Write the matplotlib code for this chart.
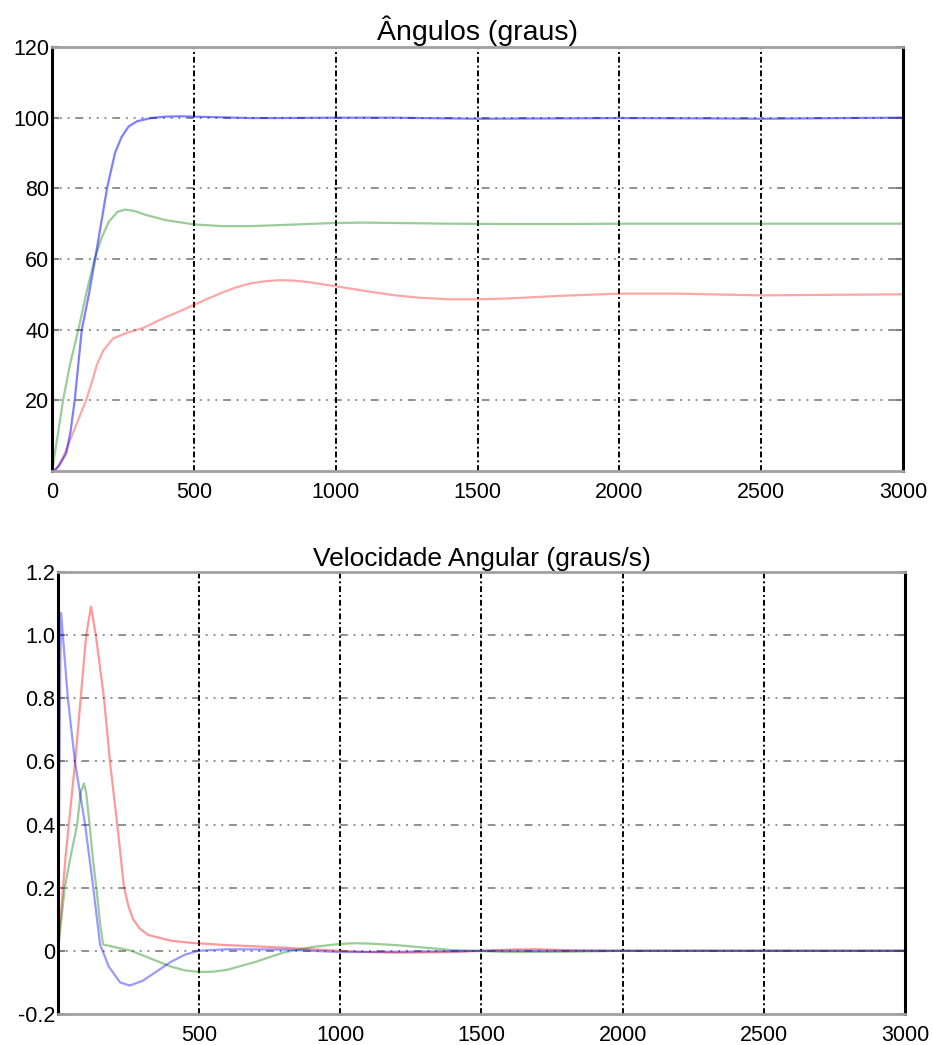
import numpy as np
import matplotlib
matplotlib.use("Agg")
from matplotlib import pyplot as plt

plt.rcParams["font.family"] = ["Liberation Sans", "DejaVu Sans"]

# angulos (graus)
t_ang_azul = [0, 10, 25, 50, 65, 80, 105, 130, 152, 173, 194, 222, 245, 270, 300, 350,
              400, 450, 500, 600, 700, 800, 1000, 1200, 1500, 1800, 2000, 2300, 2500, 2800, 3000]
ang_azul = [0, 0.3, 1.5, 5, 11, 20, 40, 50, 60, 70, 80, 90, 94.5, 97.5, 99, 99.9,
            100.3, 100.4, 100.3, 100.1, 99.9, 99.9, 100, 100, 99.7, 99.8, 99.9, 99.8, 99.7, 99.9, 100]

t_ang_verde = [0, 20, 39, 63, 93, 120, 150, 175, 200, 230, 257, 290, 330, 400, 500, 600,
               700, 800, 900, 1000, 1100, 1200, 1400, 1600, 1800, 2000, 2500, 3000]
ang_verde = [0, 10, 20, 30, 40, 50, 60, 66, 70.5, 73.3, 74, 73.6, 72.5, 71, 69.8, 69.3,
             69.3, 69.6, 69.9, 70.2, 70.3, 70.2, 70, 69.9, 69.9, 70, 70, 70]

t_ang_verm = [0, 15, 40, 70, 100, 120, 140, 158, 180, 215, 260, 322, 400, 450, 500, 550,
              600, 650, 700, 750, 800, 850, 900, 1000, 1100, 1200, 1300, 1400, 1500, 1600,
              1800, 2000, 2200, 2500, 2800, 3000]
ang_verm = [0, 0.5, 4, 10, 16, 20, 25, 30, 34, 37.5, 39, 40.5, 43.5, 45.2, 47, 48.8,
            50.5, 52, 53.1, 53.7, 54, 53.9, 53.5, 52.3, 51, 49.8, 49, 48.6, 48.6, 48.8,
            49.6, 50.2, 50.2, 49.7, 49.9, 50]

# velocidade angular (graus/s)
t_vel_azul = [0, 3, 8, 11, 35, 60, 96, 125, 149, 180, 220, 254, 300, 350, 400, 450, 497,
              600, 800, 1000, 1200, 1500, 2000, 3000]
vel_azul = [0, 0.3, 0.9, 1.07, 0.8, 0.6, 0.4, 0.2, 0.02, -0.05, -0.1, -0.11, -0.095,
            -0.065, -0.035, -0.012, 0, 0.005, 0.004, -0.004, -0.003, 0, 0, 0]

t_vel_verde = [0, 24, 45, 68, 80, 92, 100, 112, 125, 136, 150, 160, 200, 260, 330, 400,
               450, 500, 550, 600, 700, 800, 900, 1000, 1050, 1100, 1200, 1300, 1400,
               1600, 1800, 2000, 2500, 3000]
vel_verde = [0, 0.2, 0.3, 0.4, 0.5, 0.53, 0.5, 0.4, 0.28, 0.2, 0.08, 0.02, 0.012, 0,
             -0.025, -0.05, -0.062, -0.067, -0.066, -0.06, -0.035, -0.005, 0.012, 0.022,
             0.024, 0.023, 0.018, 0.01, 0.002, -0.004, -0.003, 0, 0, 0]

t_vel_verm = [0, 27, 61, 100, 117, 134, 163, 184, 210, 234, 250, 266, 290, 320, 400, 474,
              600, 700, 800, 900, 1000, 1100, 1200, 1400, 1500, 1600, 1700, 1800, 2000,
              2500, 3000]
vel_verm = [0, 0.3, 0.6, 1.0, 1.09, 1.0, 0.8, 0.6, 0.4, 0.2, 0.14, 0.1, 0.07, 0.05,
            0.032, 0.025, 0.018, 0.014, 0.01, 0.005, 0, -0.004, -0.006, -0.004, 0, 0.004,
            0.005, 0.002, 0, 0, 0]

fig = plt.figure(figsize=(9.32, 10.45), dpi=100)
ax1 = fig.add_axes([0.0558, 0.5493, 0.9131, 0.4057])
ax2 = fig.add_axes([0.0622, 0.0297, 0.9088, 0.4230])

cor_az = "#0000ff"
cor_vd = "#008000"
cor_vm = "#ff0000"


def estilo(ax):
    ax.grid(False)
    for s in ["left", "right"]:
        ax.spines[s].set_color("black")
        ax.spines[s].set_linewidth(2.2)
    for s in ["top", "bottom"]:
        ax.spines[s].set_color("#a0a0a0")
        ax.spines[s].set_linewidth(2)
    ax.tick_params(axis="both", direction="in", length=5, width=1.5, color="#808080",
                   labelsize=15.5, right=True, pad=2)
    ax.tick_params(axis="x", length=0, pad=8)
    for x in [500, 1000, 1500, 2000, 2500]:
        ax.axvline(x, color="black", lw=1.4, dashes=(3, 1.5, 1, 1.5), zorder=1)


ax1.plot(t_ang_verm, ang_verm, color=cor_vm, lw=1.6, alpha=0.35)
ax1.plot(t_ang_verde, ang_verde, color=cor_vd, lw=1.6, alpha=0.4)
ax1.plot(t_ang_azul, ang_azul, color=cor_az, lw=1.6, alpha=0.5)
ax1.set_xlim(0, 3000)
ax1.set_ylim(0, 120)
ax1.set_xticks([0, 500, 1000, 1500, 2000, 2500, 3000])
ax1.set_yticks([20, 40, 60, 80, 100, 120])
for y in [20, 40, 60, 80, 100]:
    ax1.axhline(y, color="#909090", lw=1.4, dashes=(1, 3, 1, 3, 1, 3, 4, 3), zorder=1)
estilo(ax1)
ax1.set_title("Ângulos (graus)", fontsize=20.5, pad=5)

ax2.plot(t_vel_verm, vel_verm, color=cor_vm, lw=1.6, alpha=0.4)
ax2.plot(t_vel_verde, vel_verde, color=cor_vd, lw=1.6, alpha=0.4)
ax2.plot(t_vel_azul, vel_azul, color=cor_az, lw=1.6, alpha=0.4)
ax2.set_xlim(0, 3000)
ax2.set_ylim(-0.2, 1.2)
ax2.set_xticks([500, 1000, 1500, 2000, 2500, 3000])
ax2.set_yticks([-0.2, 0, 0.2, 0.4, 0.6, 0.8, 1.0, 1.2])
ax2.set_yticklabels(["-0.2", "0", "0.2", "0.4", "0.6", "0.8", "1.0", "1.2"])
for y in [0, 0.2, 0.4, 0.6, 0.8, 1.0]:
    ax2.axhline(y, color="#909090", lw=1.4, dashes=(1, 3, 1, 3, 1, 3, 4, 3), zorder=1)
estilo(ax2)
ax2.set_title("Velocidade Angular (graus/s)", fontsize=19, pad=4)

fig.savefig("out.png", dpi=100)
